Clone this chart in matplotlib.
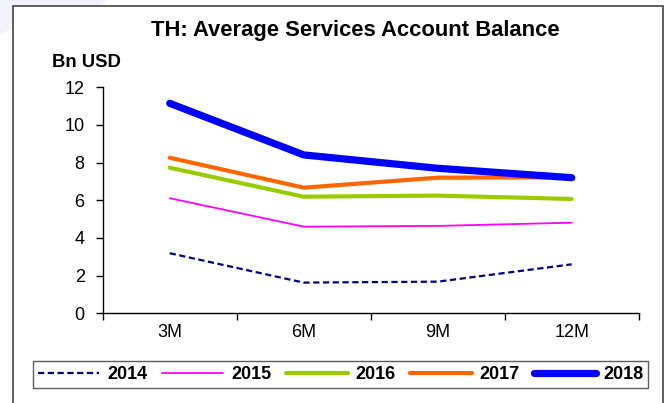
import matplotlib.pyplot as plt
from matplotlib.patches import Rectangle, Polygon
from matplotlib.ticker import FixedLocator, NullFormatter, FixedFormatter

plt.rcParams['font.family'] = ['Liberation Sans', 'DejaVu Sans']
plt.rcParams['xtick.labelsize'] = 13
plt.rcParams['ytick.labelsize'] = 13

# average services account balance, Bn USD
periods = ['3M', '6M', '9M', '12M']
years = ['2014', '2015', '2016', '2017', '2018']
bal_2014 = [3.19, 1.63, 1.68, 2.60]
bal_2015 = [6.11, 4.60, 4.64, 4.81]
bal_2016 = [7.73, 6.19, 6.25, 6.07]
bal_2017 = [8.26, 6.67, 7.20, 7.22]
bal_2018 = [11.15, 8.41, 7.70, 7.20]

series = [bal_2014, bal_2015, bal_2016, bal_2017, bal_2018]
colors = ['#000080', '#FF00FF', '#99CC00', '#FF6600', '#0000FF']
widths = [1.6, 1.3, 3.0, 3.0, 5.2]
styles = [(0, (2.8, 1.6)), '-', '-', '-', '-']

fig = plt.figure(figsize=(6.69, 4.03), dpi=100)

# faint watermark stroke in the corner and the outer chart frame
fig.patches.append(Polygon([[0, 1], [0.16, 1], [0.15, 0.986], [0.02, 0.986],
                            [0.0185, 0.93], [0, 0.915]], closed=True,
                           transform=fig.transFigure, facecolor='#F1F2FA',
                           edgecolor='none', zorder=0))
fig.patches.append(Rectangle((0.0195, -0.05), 0.972, 1.035,
                             transform=fig.transFigure, fill=False,
                             edgecolor='#444444', linewidth=1.2, zorder=1))

ax = fig.add_axes([0.1535, 0.2226, 0.8012, 0.5608])
x = [i + 0.5 for i in range(len(periods))]
for vals, c, lw, ls, yr in zip(series, colors, widths, styles, years):
    ax.plot(x, vals, color=c, linewidth=lw, linestyle=ls, label=yr,
            solid_capstyle='round', dash_capstyle='butt')

ax.set_xlim(0, len(periods))
ax.set_ylim(0, 12)
ax.set_yticks(range(0, 13, 2))
# boundary ticks between periods, labels centred under each period
ax.xaxis.set_major_locator(FixedLocator(range(len(periods) + 1)))
ax.xaxis.set_major_formatter(NullFormatter())
ax.xaxis.set_minor_locator(FixedLocator(x))
ax.xaxis.set_minor_formatter(FixedFormatter(periods))
ax.tick_params(axis='x', which='major', direction='out', length=5, width=1)
ax.tick_params(axis='x', which='minor', length=0, pad=8, labelsize=13)
ax.tick_params(axis='y', direction='out', length=5, width=1, pad=8, labelsize=13)

for s in ['top', 'right']:
    ax.spines[s].set_visible(False)
for s in ['left', 'bottom']:
    ax.spines[s].set_linewidth(1)

fig.text(0.531, 0.925, 'TH: Average Services Account Balance', ha='center',
         va='center', fontsize=15.8, fontweight='bold')
fig.text(0.077, 0.845, 'Bn USD', ha='left', va='center', fontsize=13.3,
         fontweight='bold')

leg = fig.legend(loc='center', bbox_to_anchor=(0.5097, 0.0707), ncol=5,
                 frameon=True, fancybox=False, handlelength=3.4,
                 handletextpad=0.45, columnspacing=0.8, borderpad=0.25,
                 prop={'weight': 'bold', 'size': 13})
leg.get_frame().set_edgecolor('#333333')
leg.get_frame().set_linewidth(1)

fig.savefig('out.png', dpi=100)
